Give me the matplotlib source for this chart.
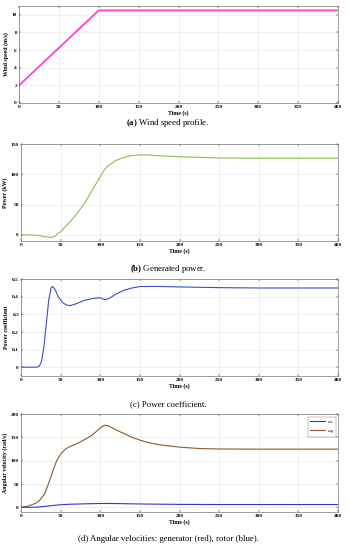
import matplotlib
matplotlib.use("Agg")
import matplotlib.pyplot as plt

plt.rcParams['font.family'] = ['Liberation Serif', 'DejaVu Serif']
plt.rcParams['mathtext.fontset'] = 'custom'
plt.rcParams['mathtext.rm'] = 'Liberation Serif'
plt.rcParams['mathtext.it'] = 'Liberation Serif:italic'
plt.rcParams['mathtext.bf'] = 'Liberation Serif:bold'

# (a) wind speed
t_wind = [0, 100, 400]
wind = [2, 10.5, 10.5]

# (b) generated power (kW)
t_pow = [0, 10, 20, 30, 38, 42, 50, 60, 70, 80, 90, 100, 105, 110, 120, 130, 140,
         150, 160, 175, 200, 225, 250, 300, 350, 400]
power = [0, 0, -0.3, -3, -4, -3, 5.5, 19, 34, 52, 74, 96, 107, 114, 123, 128, 131,
         132, 132, 130.5, 129, 128, 127, 126.5, 126.5, 126.5]

# (c) power coefficient
t_cp = [0, 10, 20, 23, 26, 29, 32, 35, 38, 40, 43, 47, 52, 57, 62, 70, 80, 90, 100,
        103, 107, 112, 120, 130, 140, 150, 170, 200, 250, 300, 400]
cp = [0, 0, 0, 0.005, 0.034, 0.119, 0.25, 0.38, 0.45, 0.458, 0.44, 0.40, 0.368,
      0.353, 0.349, 0.36, 0.379, 0.389, 0.394, 0.387, 0.383, 0.392, 0.415, 0.436,
      0.449, 0.457, 0.458, 0.455, 0.451, 0.449, 0.449]

# (d) angular velocities (rad/s)
t_g = [0, 10, 20, 25, 30, 35, 40, 45, 50, 55, 60, 70, 80, 90, 100, 105, 110, 120,
       130, 140, 150, 160, 175, 200, 225, 250, 300, 400]
omega_g = [0, 3, 10, 18, 30, 52, 77, 100, 114, 123, 129, 136, 145, 155, 170, 176,
           175, 166, 158, 150, 144, 139, 134, 129, 126, 125, 124.7, 124.7]
t_r = [0, 10, 20, 30, 40, 50, 60, 80, 100, 110, 130, 150, 200, 250, 400]
omega_r = [0, 0.1, 0.5, 2, 4, 5.5, 6.5, 7.5, 8.2, 8.3, 7.8, 7.2, 6.3, 6, 6]

xticks = [0, 50, 100, 150, 200, 250, 300, 350, 400]

W, H = 349, 550
fig = plt.figure(figsize=(W / 100, H / 100), dpi=100)

def make_ax(left, top, right, bottom):
    return fig.add_axes([left / W, 1 - bottom / H, (right - left) / W, (bottom - top) / H])

def style(ax, ylabel, yticks, ylim, yfmt=None):
    ax.set_xlim(0, 400)
    ax.set_ylim(*ylim)
    ax.set_xticks(xticks)
    ax.set_yticks(yticks)
    if yfmt:
        ax.set_yticklabels([yfmt(v) for v in yticks])
    ax.grid(True, color='#e4e4e4', linewidth=0.4)
    ax.set_axisbelow(True)
    ax.tick_params(labelsize=3.8, length=1.5, width=0.3, pad=1.5, direction='in',
                   top=True, right=True)
    for lab in ax.get_xticklabels() + ax.get_yticklabels():
        lab.set_fontweight('bold')
    for s in ax.spines.values():
        s.set_linewidth(0.4)
        s.set_color('#555555')
    ax.set_xlabel('Time (s)', fontsize=4.2, fontweight='bold', labelpad=1)
    ax.set_ylabel(ylabel, fontsize=4.2, fontweight='bold', labelpad=2)

cap_kw = dict(ha='center', va='center', fontsize=6.3)

# (a)
ax = make_ax(19, 6, 338, 103)
ax.plot(t_wind, wind, color='#ff3fd2', linewidth=1.3)
style(ax, 'Wind speed (m/s)', [0, 2, 4, 6, 8, 10], (0, 11))
fig.text(168 / W, 1 - 123 / H, r'$\mathbf{(a)}$ Wind speed profile.', **cap_kw)

# (b)
ax = make_ax(21, 144, 338, 241)
ax.plot(t_pow, power, color='#8cbf4e', linewidth=0.8)
style(ax, 'Power (kW)', [0, 50, 100, 150], (-10, 150))
fig.text(168 / W, 1 - 269 / H, r'$\mathbf{(b)}$ Generated power.', **cap_kw)

# (c)
ax = make_ax(21, 279, 338, 376)
ax.plot(t_cp, cp, color='#3a4fc4', linewidth=0.8)
style(ax, 'Power coefficient', [0, 0.1, 0.2, 0.3, 0.4, 0.5], (-0.05, 0.5),
      yfmt=lambda v: '0' if v == 0 else f'{v:.1f}'.replace('.', ','))
fig.text(168 / W, 1 - 404 / H, '(c) Power coefficient.', **cap_kw)

# (d)
ax = make_ax(21, 414, 338, 512)
ax.plot(t_r, omega_r, color='#3535d0', linewidth=0.8, label=r'$\omega_r$')
ax.plot(t_g, omega_g, color='#8b5a2b', linewidth=0.8, label=r'$\omega_g$')
style(ax, 'Angular velocity (rad/s)', [0, 50, 100, 150, 200], (-10, 200))
leg = ax.legend(loc='upper right', fontsize=3.6, handlelength=3, borderpad=0.3,
                labelspacing=0.2, handletextpad=0.4, framealpha=1, fancybox=False,
                borderaxespad=0.5)
leg.get_frame().set_linewidth(0.3)
leg.get_frame().set_edgecolor('#777777')
fig.text(168 / W, 1 - 539 / H, '(d) Angular velocities: generator (red), rotor (blue).', **cap_kw)

fig.savefig('out.png', dpi=100)
